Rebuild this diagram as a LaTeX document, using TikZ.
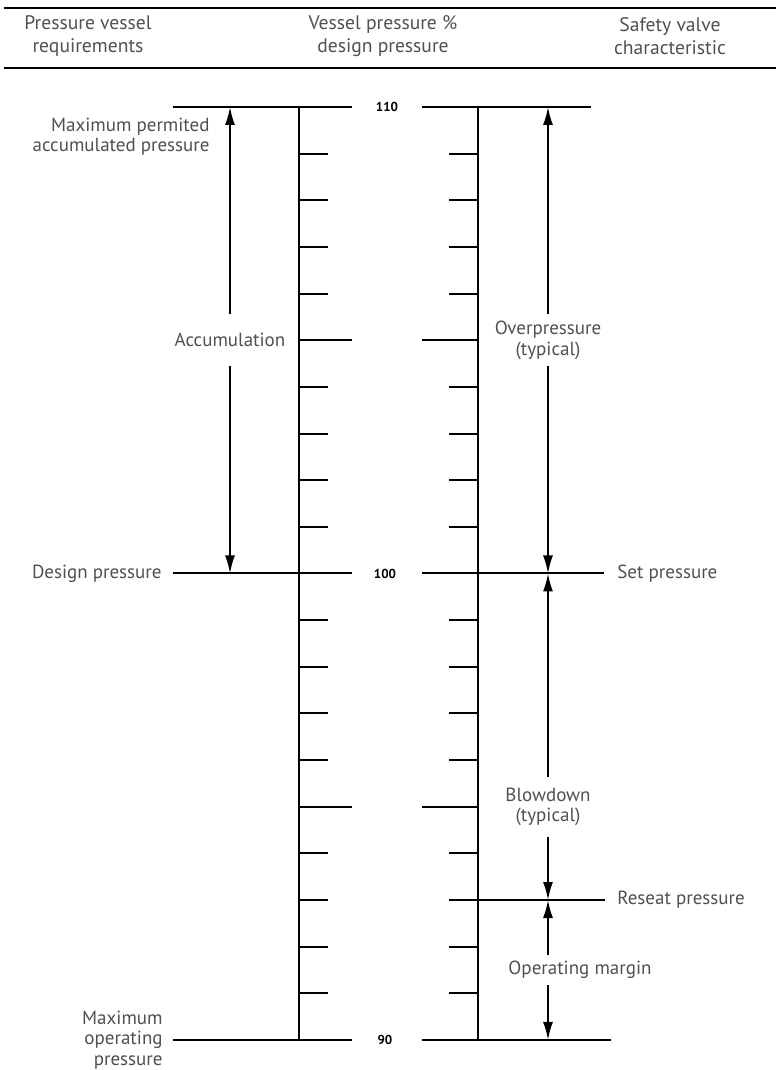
\documentclass[tikz,border=0pt]{standalone}
\usepackage{fontspec}
\setmainfont{PT Sans}
\usetikzlibrary{arrows.meta, positioning}
\definecolor{labelgray}{HTML}{505050}

\begin{document}
\begin{tikzpicture}[
    x=0.5pt, y=23.325pt,
    >={Latex[length=9pt,width=5pt]},
    scaleline/.style={line width=1pt},
    arrowline/.style={line width=0.9pt, ->},
    rule/.style={line width=1.4pt},
    lbl/.style={font=\fontsize{9.5}{10.2}\selectfont, text=labelgray, inner sep=0pt},
    gaplbl/.style={lbl, align=center, minimum height=#1},
    head/.style={font=\fontsize{9.8}{11.6}\selectfont, text=labelgray, align=center, inner sep=0pt},
    pct/.style={font=\fontsize{6.5}{7}\selectfont\bfseries, inner sep=0pt},
]
\def\xL{299}   % left scale
\def\xR{478}   % right scale
\def\xA{230}   % accumulation arrow
\def\xS{548}   % safety valve arrows

\useasboundingbox (0,89.357) rectangle (776,112.294);

% Header
\draw[rule] (4,112.123) -- (776,112.123);
\draw[rule] (4,110.836) -- (776,110.836);
\node[head] (hVessel) at (88,111.512)  {Pressure vessel\\requirements};
\node[head] (hScale)  at (383,111.512) {Vessel pressure \%\\design pressure};
\node[head] (hValve)  at (670,111.512) {Safety valve\\characteristic};

% Scales
\draw[scaleline] (\xL,90) -- (\xL,110);
\draw[scaleline] (\xR,90) -- (\xR,110);
\foreach \p in {91,...,109} {
    \draw[scaleline] (\xL,\p) -- ++(29,0);
    \draw[scaleline] (\xR,\p) -- ++(-29,0);
}
\foreach \p in {95,105} {
    \draw[scaleline] (\xL,\p) -- ++(53,0);
    \draw[scaleline] (\xR,\p) -- ++(-56,0);
}

% Main pressure lines
\foreach \p in {90,100,110}
    \draw[scaleline] (173,\p) -- (352,\p);
\draw[scaleline] (422,110) -- (591,110);
\draw[scaleline] (422,100) -- (604,100);
\draw[scaleline] (449,93)  -- (605,93);
\draw[scaleline] (422,90)  -- (611,90);

% Percentages
\node[pct] (n110) at (387,110) {110};
\node[pct] (n100) at (385,100) {100};
\node[pct] (n90)  at (385,90)  {90};

% Pressure vessel side
\node[lbl, anchor=east, align=right] (maxAcc) at (210,109.36) {Maximum permited\\accumulated pressure};
\node[lbl, anchor=east] (design) at (162,100) {Design pressure};
\node[lbl, anchor=east, align=right] (maxOp) at (163,90) {Maximum\\operating\\pressure};

\node[gaplbl=25.5pt] (accum) at (\xA,105) {Accumulation};
\coordinate (accTop) at (\xA,110);
\coordinate (accBot) at (\xA,100);
\draw[arrowline] (accum.north) -- (accTop);
\draw[arrowline] (accum.south) -- (accBot);

% Safety valve side
\node[lbl, anchor=west] (setp)   at (617,100) {Set pressure};
\node[lbl, anchor=west] (reseat) at (617,93)  {Reseat pressure};

\coordinate (sv110) at (\xS,110);
\coordinate (sv100) at (\xS,100);
\coordinate (sv93)  at (\xS,93);
\coordinate (sv90)  at (\xS,90);

\node[gaplbl=25.5pt] (overp) at (\xS,105) {Overpressure\\(typical)};
\draw[arrowline] (overp.north) -- (sv110);
\draw[arrowline] (overp.south) -- (sv100);

\node[gaplbl=29.5pt] (blowd) at (\xS,95) {Blowdown\\(typical)};
\draw[arrowline] (blowd.north) -- (sv100);
\draw[arrowline] (blowd.south) -- (sv93);

\node[gaplbl=15pt] (opmarg) at (580,91.5) {Operating margin};
\draw[arrowline] (sv93 |- opmarg.north) -- (sv93);
\draw[arrowline] (sv90 |- opmarg.south) -- (sv90);

\end{tikzpicture}
\end{document}
